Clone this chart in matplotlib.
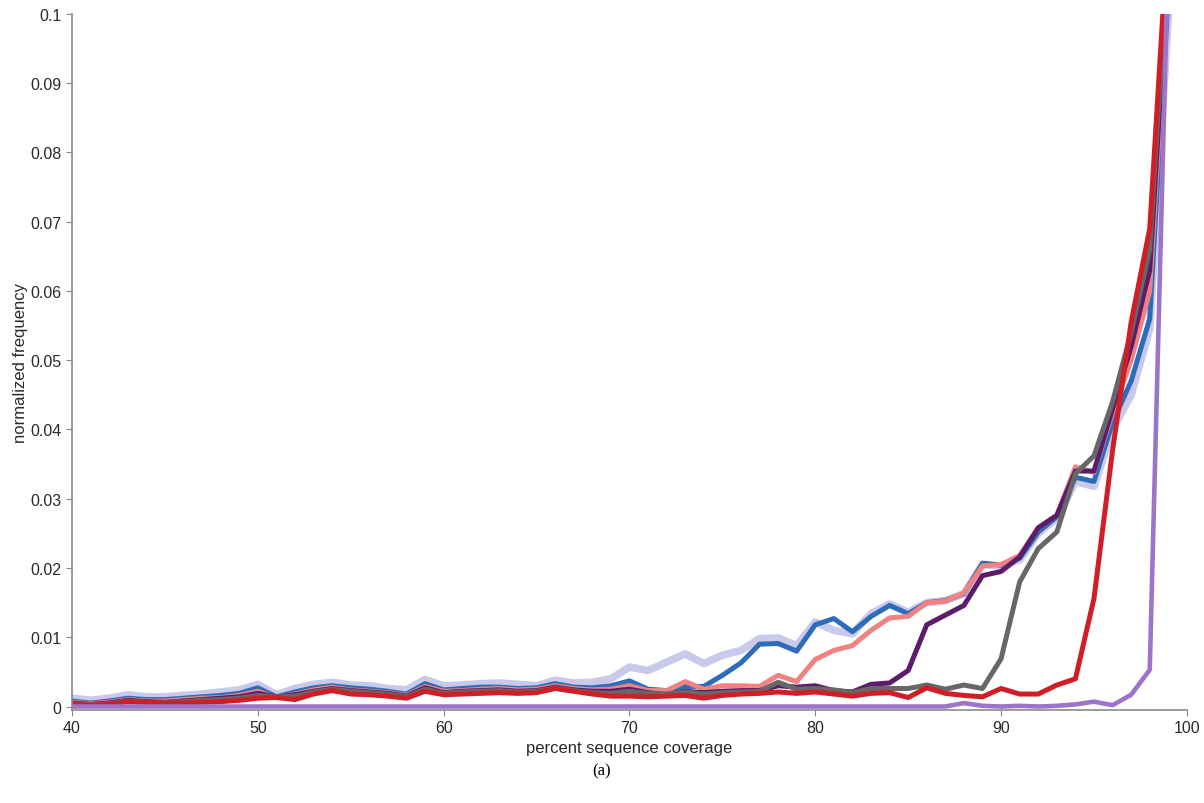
import numpy as np
import matplotlib.pyplot as plt

coverage = list(range(40, 100))

lavender = [0.0012, 0.0009, 0.0012, 0.0017, 0.0014, 0.0014, 0.0016, 0.0018, 0.0021, 0.0024,
            0.0032, 0.0017, 0.0026, 0.0032, 0.0035, 0.0031, 0.0030, 0.0026, 0.0024, 0.0039,
            0.0030, 0.0031, 0.0033, 0.0034, 0.0032, 0.0030, 0.0038, 0.0034, 0.0035, 0.0040,
            0.0057, 0.0052, 0.0064, 0.0076, 0.0062, 0.0074, 0.0081, 0.0098, 0.0099, 0.0088,
            0.0122, 0.0110, 0.0105, 0.0134, 0.0148, 0.0136, 0.0150, 0.0153, 0.0163, 0.0205,
            0.0203, 0.0212, 0.0250, 0.0272, 0.0325, 0.0318, 0.0400, 0.0450, 0.0545, 0.100]
blue = [0.0008, 0.0005, 0.0008, 0.0012, 0.0010, 0.0010, 0.0012, 0.0014, 0.0016, 0.0019,
        0.0027, 0.0014, 0.0021, 0.0027, 0.0030, 0.0027, 0.0025, 0.0022, 0.0018, 0.0033,
        0.0024, 0.0026, 0.0028, 0.0028, 0.0026, 0.0027, 0.0033, 0.0028, 0.0027, 0.0030,
        0.0037, 0.0025, 0.0023, 0.0029, 0.0029, 0.0045, 0.0063, 0.0090, 0.0091, 0.0080,
        0.0118, 0.0127, 0.0108, 0.0130, 0.0146, 0.0134, 0.0150, 0.0153, 0.0163, 0.0207,
        0.0204, 0.0214, 0.0252, 0.0274, 0.0331, 0.0325, 0.0410, 0.0470, 0.0560, 0.103]
salmon = [0.0006, 0.0004, 0.0006, 0.0010, 0.0008, 0.0008, 0.0010, 0.0012, 0.0013, 0.0016,
          0.0022, 0.0013, 0.0018, 0.0024, 0.0028, 0.0024, 0.0022, 0.0020, 0.0016, 0.0029,
          0.0022, 0.0023, 0.0025, 0.0026, 0.0024, 0.0025, 0.0030, 0.0026, 0.0024, 0.0025,
          0.0030, 0.0023, 0.0023, 0.0036, 0.0025, 0.0030, 0.0030, 0.0029, 0.0045, 0.0036,
          0.0068, 0.0081, 0.0088, 0.0110, 0.0128, 0.0130, 0.0150, 0.0152, 0.0164, 0.0203,
          0.0205, 0.0218, 0.0258, 0.0276, 0.0346, 0.0338, 0.0425, 0.0500, 0.0600, 0.105]
dark_purple = [0.0005, 0.0003, 0.0005, 0.0009, 0.0007, 0.0006, 0.0008, 0.0010, 0.0012, 0.0014,
               0.0019, 0.0014, 0.0017, 0.0022, 0.0026, 0.0023, 0.0021, 0.0019, 0.0015, 0.0027,
               0.0020, 0.0022, 0.0023, 0.0024, 0.0022, 0.0023, 0.0028, 0.0024, 0.0022, 0.0022,
               0.0025, 0.0020, 0.0017, 0.0022, 0.0020, 0.0022, 0.0023, 0.0023, 0.0030, 0.0028,
               0.0030, 0.0023, 0.0021, 0.0032, 0.0034, 0.0052, 0.0118, 0.0132, 0.0146, 0.0189,
               0.0195, 0.0216, 0.0258, 0.0276, 0.0340, 0.0340, 0.0430, 0.0520, 0.0630, 0.107]
gray = [0.0004, 0.0003, 0.0004, 0.0008, 0.0006, 0.0006, 0.0007, 0.0009, 0.0010, 0.0012,
        0.0016, 0.0014, 0.0015, 0.0021, 0.0025, 0.0022, 0.0020, 0.0018, 0.0014, 0.0025,
        0.0019, 0.0021, 0.0022, 0.0023, 0.0021, 0.0022, 0.0027, 0.0023, 0.0020, 0.0019,
        0.0022, 0.0019, 0.0018, 0.0021, 0.0018, 0.0020, 0.0021, 0.0022, 0.0035, 0.0025,
        0.0026, 0.0024, 0.0020, 0.0026, 0.0026, 0.0026, 0.0031, 0.0025, 0.0031, 0.0026,
        0.0069, 0.0180, 0.0228, 0.0252, 0.0336, 0.0362, 0.0440, 0.0540, 0.0660, 0.110]
red = [0.0004, 0.0002, 0.0003, 0.0007, 0.0006, 0.0005, 0.0005, 0.0006, 0.0007, 0.0009,
       0.0012, 0.0013, 0.0010, 0.0018, 0.0023, 0.0018, 0.0017, 0.0015, 0.0012, 0.0022,
       0.0017, 0.0018, 0.0019, 0.0020, 0.0019, 0.0020, 0.0026, 0.0022, 0.0018, 0.0015,
       0.0015, 0.0014, 0.0015, 0.0016, 0.0012, 0.0016, 0.0018, 0.0019, 0.0021, 0.0019,
       0.0021, 0.0018, 0.0015, 0.0019, 0.0020, 0.0013, 0.0027, 0.0019, 0.0016, 0.0014,
       0.0026, 0.0018, 0.0018, 0.0031, 0.0040, 0.0156, 0.0370, 0.0555, 0.0690, 0.113]
medium_purple = [0.0] * 48 + [0.0005, 0.0001, 0.0, 0.0001, 0.0, 0.0001, 0.0003, 0.0007,
                              0.0002, 0.0017, 0.0053, 0.110]

# back to front
series = [
    (lavender, "#c9c9ec", 5.5),
    (blue, "#2c6cb8", 3.6),
    (salmon, "#f28282", 3.6),
    (dark_purple, "#5c1b6b", 3.6),
    (gray, "#676767", 3.6),
    (red, "#d11d25", 3.6),
    (medium_purple, "#9c74c9", 3.3),
]

plt.rcParams['font.family'] = ['Liberation Sans', 'DejaVu Sans']

fig = plt.figure(figsize=(12.04, 8.04), dpi=100)
ax = fig.add_axes([0.0598, 0.1157, 0.926, 0.8657])

for vals, color, lw in series:
    ax.plot(coverage, vals, color=color, lw=lw, solid_joinstyle='round', solid_capstyle='round')

# small margin under zero so the flat line at 0 stays fully visible
ax.set_xlim(40, 100)
ax.set_ylim(-0.0005, 0.1)
ax.set_xticks(range(40, 101, 10))
yt = np.arange(0, 11) / 100
ax.set_yticks(yt)
ax.set_yticklabels(["0"] + [f"{v:g}" for v in yt[1:]])

for side in ("top", "right"):
    ax.spines[side].set_visible(False)
for side in ("left", "bottom"):
    ax.spines[side].set_color("#8a8a8a")
    ax.spines[side].set_linewidth(1.2)
ax.tick_params(axis="both", colors="#8a8a8a", labelcolor="#2a2a2a", labelsize=11.5, length=4)

ax.set_xlabel("percent sequence coverage", fontsize=12, color="#2a2a2a", labelpad=3)
ax.set_ylabel("normalized frequency", fontsize=12, color="#2a2a2a", labelpad=2)

fig.text(0.5, 0.04, "(a)", fontsize=12, family="Liberation Serif", ha="center", va="center")

fig.savefig("out.png", dpi=100)
